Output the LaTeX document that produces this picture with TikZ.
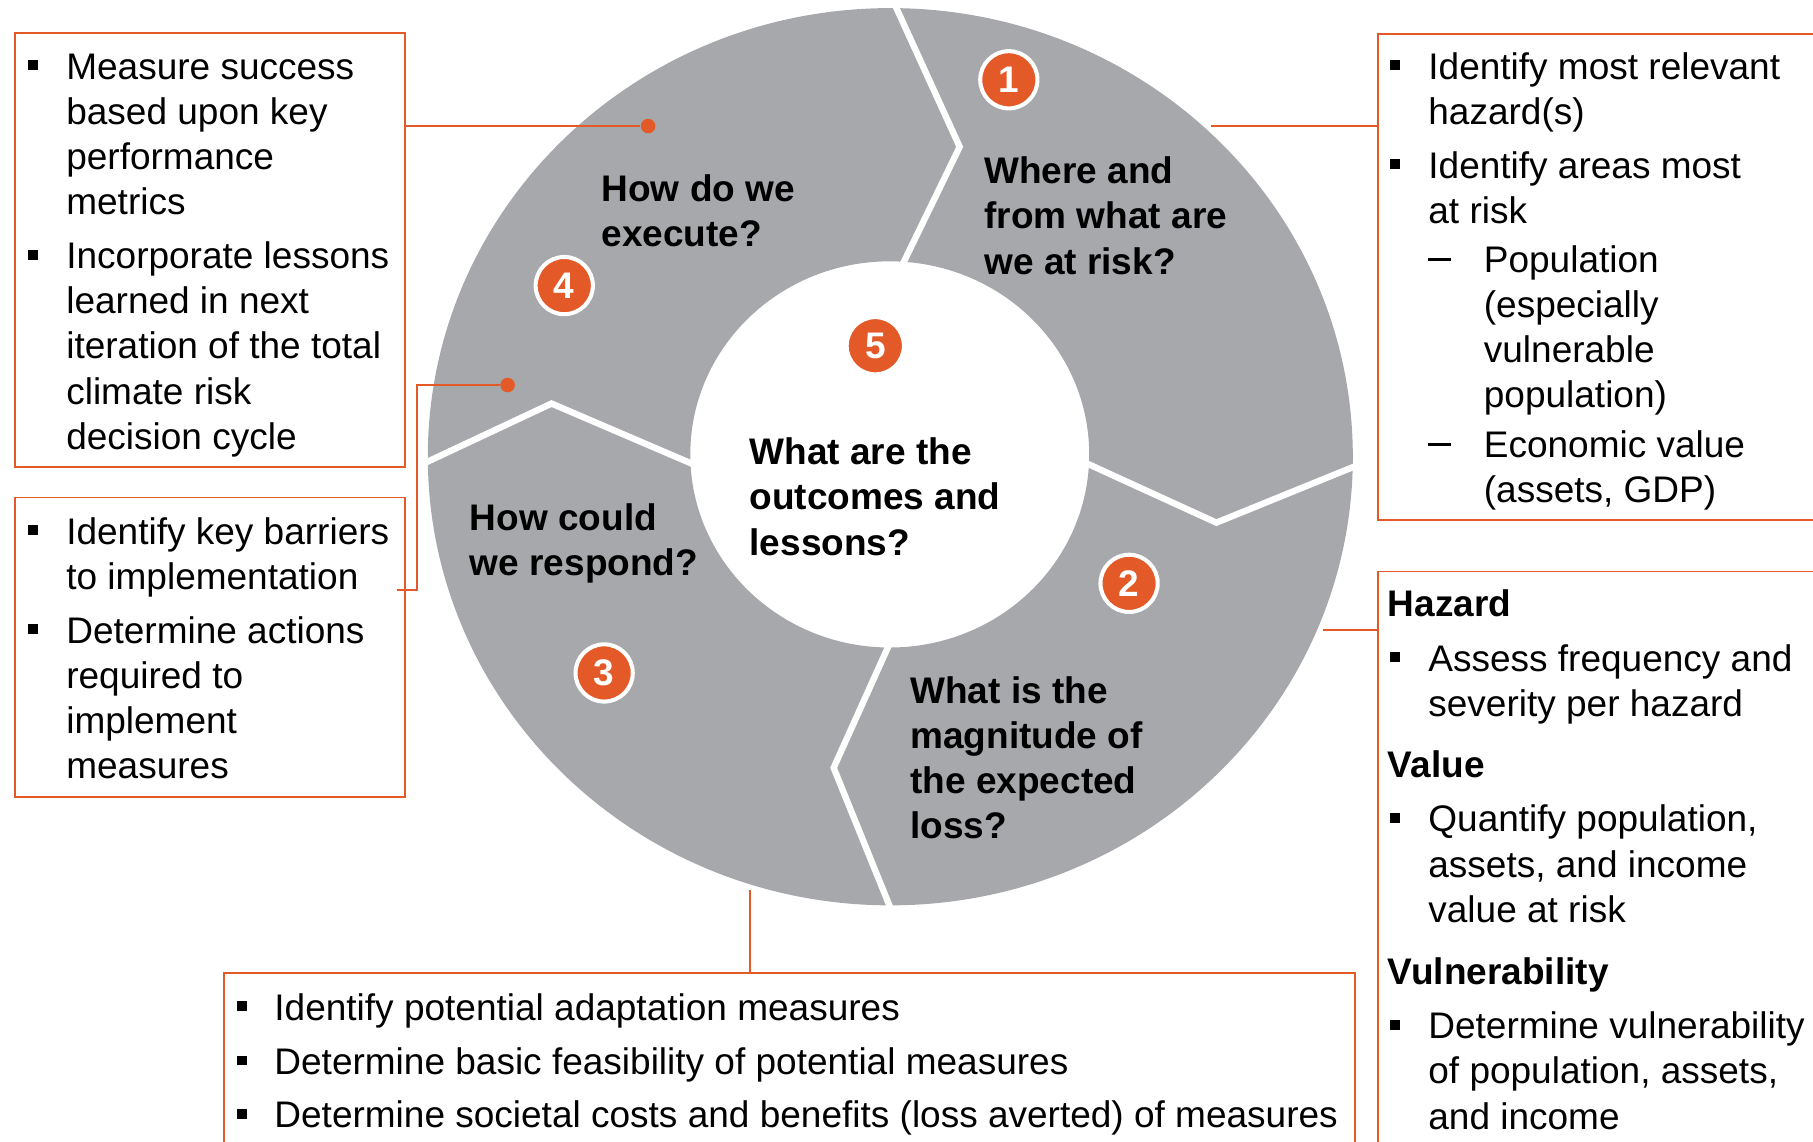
\documentclass[tikz,border=0pt]{standalone}
\usepackage{fontspec}
\setmainfont{Liberation Sans}
\usepackage{array}
\newlength\pxu
\setlength\pxu{0.578pt}
\definecolor{orng}{RGB}{227,89,39}
\definecolor{ringgrey}{RGB}{167,168,172}
\newcommand\bsq{\rule[0.25em]{0.27em}{0.27em}}
\newcommand\sdash{\rule[0.31em]{0.62em}{0.08em}}
\newcommand\subind{\hspace*{48\pxu}}
\begin{document}
\begin{tikzpicture}[x=0.578pt,y=-0.578pt,
  box/.style={draw=orng, line width=0.9pt, inner sep=0, anchor=north west},
  conn/.style={draw=orng, line width=1pt},
  dotnode/.style={circle, fill=orng, inner sep=0, minimum size=12.6\pxu},
  numc/.style={circle, fill=orng, draw=white, line width=3.5\pxu, minimum size=49.5\pxu, inner sep=0, text=white, font=\fontsize{18.5pt}{22pt}\selectfont\bfseries},
  body/.style={anchor=base west, inner sep=0, font=\fontsize{18.5pt}{22.54pt}\selectfont},
  qlabel/.style={anchor=base west, inner sep=0, font=\fontsize{18.5pt}{22.54pt}\selectfont\bfseries},
  divider/.style={draw=white, line width=5.5\pxu, line join=miter}
]
\useasboundingbox (0,0) rectangle (1568,987);
\clip (0,0) rectangle (1568,987);

% ring
\fill[ringgrey, even odd rule] (770,395) ellipse (400 and 388) (769.5,393) ellipse (172.5 and 167);
\draw[divider] (773,2) -- (830,127) -- (779,232);
\draw[divider] (936,399) -- (1052,452) -- (1175,402);
\draw[divider] (771,553) -- (721,664) -- (772,790);
\draw[divider] (364,402) -- (477,349) -- (603,403);

% numbered circles
\node[numc] (n1) at (872.5,69) {1};
\node[numc] (n2) at (976.5,504.5) {2};
\node[numc] (n3) at (522.5,582) {3};
\node[numc] (n4) at (488,247) {4};
\node[numc] (n5) at (757,299) {5};

% questions
\node[qlabel] (q1) at (851,159) {\begin{tabular}[t]{@{}l@{}}Where and\\from what are\\we at risk?\end{tabular}};
\node[qlabel] (q4) at (520,174) {\begin{tabular}[t]{@{}l@{}}How do we\\execute?\end{tabular}};
\node[qlabel] (q5) at (648,402) {\begin{tabular}[t]{@{}l@{}}What are the\\outcomes and\\lessons?\end{tabular}};
\node[qlabel] (q3) at (406,459) {\begin{tabular}[t]{@{}l@{}}How could\\we respond?\end{tabular}};
\node[qlabel] (q2) at (787,608.5) {\begin{tabular}[t]{@{}l@{}}What is the\\magnitude of\\the expected\\loss?\end{tabular}};

% boxes
\node[box, minimum width=337.5\pxu, minimum height=375\pxu] (lt) at (12,28) {};
\node[box, minimum width=337.5\pxu, minimum height=259\pxu] (lb) at (12,429.5) {};
\node[box, minimum width=420\pxu, minimum height=420.5\pxu] (rt) at (1191,28.5) {};
\node[box, minimum width=420\pxu, minimum height=540\pxu] (rb) at (1191,493.5) {};
\node[box, minimum width=978\pxu, minimum height=190\pxu] (bt) at (193,841) {};

% box texts
\node[body] (ltt) at (24,68.5) {\begin{tabular}[t]{@{}p{33\pxu}@{}l@{}}
\bsq & Measure success\\
 & based upon key\\
 & performance\\
 & metrics\\[8\pxu]
\bsq & Incorporate lessons\\
 & learned in next\\
 & iteration of the total\\
 & climate risk\\
 & decision cycle
\end{tabular}};

\node[body] (lbt) at (24,470.5) {\begin{tabular}[t]{@{}p{33\pxu}@{}l@{}}
\bsq & Identify key barriers\\
 & to implementation\\[8\pxu]
\bsq & Determine actions\\
 & required to\\
 & implement\\
 & measures
\end{tabular}};

\node[body] (rtt) at (1202,68.5) {\begin{tabular}[t]{@{}p{33\pxu}@{}l@{}}
\bsq & Identify most relevant\\
 & hazard(s)\\[8\pxu]
\bsq & Identify areas most\\
 & at risk\\[3\pxu]
 & \makebox[48\pxu][l]{\sdash}Population\\
 & \subind(especially\\
 & \subind vulnerable\\
 & \subind population)\\[4\pxu]
 & \makebox[48\pxu][l]{\sdash}Economic value\\
 & \subind(assets, GDP)
\end{tabular}};

\node[body] (rbt) at (1200,533.5) {\begin{tabular}[t]{@{}p{35\pxu}@{}l@{}}
\multicolumn{2}{@{}l@{}}{\bfseries Hazard}\\[8\pxu]
\hspace*{2\pxu}\bsq & Assess frequency and\\
 & severity per hazard\\[14\pxu]
\multicolumn{2}{@{}l@{}}{\bfseries Value}\\[8\pxu]
\hspace*{2\pxu}\bsq & Quantify population,\\
 & assets, and income\\
 & value at risk\\[15\pxu]
\multicolumn{2}{@{}l@{}}{\bfseries Vulnerability}\\[8\pxu]
\hspace*{2\pxu}\bsq & Determine vulnerability\\
 & of population, assets,\\
 & and income
\end{tabular}};

\node[body] (btt) at (205,882.5) {\begin{tabular}[t]{@{}p{32\pxu}@{}l@{}}
\bsq & Identify potential adaptation measures\\[8\pxu]
\bsq & Determine basic feasibility of potential measures\\[7\pxu]
\bsq & Determine societal costs and benefits (loss averted) of measures
\end{tabular}};

% connectors
\node[dotnode] (d4a) at (560.5,109) {};
\node[dotnode] (d4b) at (439,333) {};
\coordinate (lbs) at (343,510);
\coordinate (lbk) at (361,420);
\coordinate (r1) at (1047,109);
\coordinate (r2) at (1144,545);
\coordinate (r3) at (649,770);
\draw[conn] (lt.east |- d4a) -- (d4a);
\draw[conn] (lbs) -| (lbk) |- (d4b);
\draw[conn] (r1) -- (r1 -| rt.west);
\draw[conn] (r2) -- (r2 -| rb.west);
\draw[conn] (r3) -- (r3 |- bt.north);
\end{tikzpicture}
\end{document}
